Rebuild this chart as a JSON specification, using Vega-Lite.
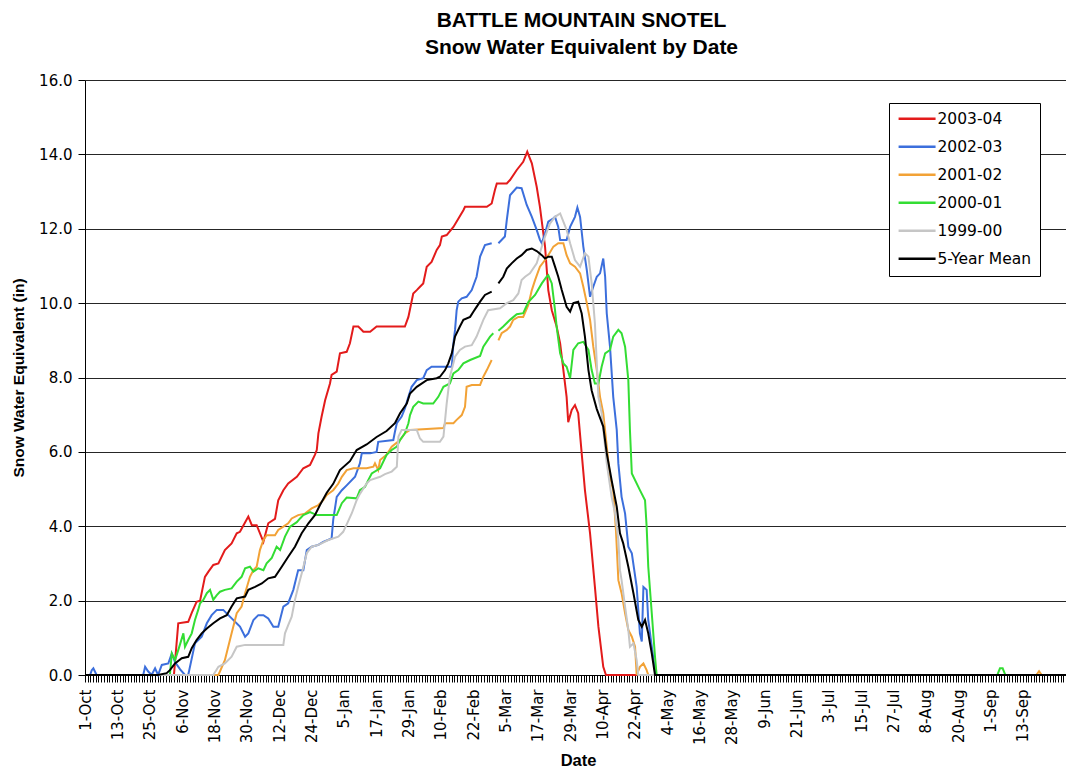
{
  "$schema": "https://vega.github.io/schema/vega-lite/v6.json",
  "width": 981,
  "height": 595,
  "autosize": {"type": "none"},
  "padding": {"left": 85, "top": 80, "right": 0, "bottom": 97},
  "background": "white",
  "title": {
    "text": ["BATTLE MOUNTAIN SNOTEL", "Snow Water Equivalent by Date"],
    "font": "Liberation Sans",
    "fontSize": 21,
    "fontWeight": "bold",
    "lineHeight": 27,
    "color": "black",
    "anchor": "middle",
    "frame": "group",
    "offset": 15,
    "dx": 6
  },
  "config": {"view": {"stroke": null}, "font": "DejaVu Sans"},
  "data": {"values": [
    {"season":"2003-04","day":0,"swe":0},{"season":"2003-04","day":33,"swe":0},{"season":"2003-04","day":34.6,"swe":1.39},{"season":"2003-04","day":38.3,"swe":1.43},{"season":"2003-04","day":39.6,"swe":1.67},{"season":"2003-04","day":41.4,"swe":1.97},{"season":"2003-04","day":42.7,"swe":2.0},{"season":"2003-04","day":44.5,"swe":2.64},{"season":"2003-04","day":45.8,"swe":2.78},{"season":"2003-04","day":47.6,"swe":2.96},{"season":"2003-04","day":49.5,"swe":3.0},{"season":"2003-04","day":51.9,"swe":3.36},{"season":"2003-04","day":54.4,"swe":3.54},{"season":"2003-04","day":56.3,"swe":3.81},{"season":"2003-04","day":57.5,"swe":3.85},{"season":"2003-04","day":60.6,"swe":4.26},{"season":"2003-04","day":61.9,"swe":4.03},{"season":"2003-04","day":63.7,"swe":4.03},{"season":"2003-04","day":66.2,"swe":3.58},{"season":"2003-04","day":68,"swe":4.08},{"season":"2003-04","day":70.5,"swe":4.2},{"season":"2003-04","day":71.7,"swe":4.7},{"season":"2003-04","day":73.6,"swe":4.97},{"season":"2003-04","day":75.4,"swe":5.15},{"season":"2003-04","day":78.6,"swe":5.33},{"season":"2003-04","day":81,"swe":5.56},{"season":"2003-04","day":83.5,"swe":5.65},{"season":"2003-04","day":85.3,"swe":5.92},{"season":"2003-04","day":86,"swe":6.05},{"season":"2003-04","day":86.6,"swe":6.5},{"season":"2003-04","day":87.8,"swe":6.95},{"season":"2003-04","day":89.1,"swe":7.39},{"season":"2003-04","day":90.9,"swe":7.84},{"season":"2003-04","day":91.5,"swe":8.07},{"season":"2003-04","day":93.4,"swe":8.16},{"season":"2003-04","day":94.6,"swe":8.65},{"season":"2003-04","day":97.1,"swe":8.69},{"season":"2003-04","day":98.3,"swe":8.92},{"season":"2003-04","day":99.6,"swe":9.37},{"season":"2003-04","day":101.4,"swe":9.37},{"season":"2003-04","day":103.3,"swe":9.23},{"season":"2003-04","day":105.8,"swe":9.23},{"season":"2003-04","day":108.2,"swe":9.37},{"season":"2003-04","day":118.7,"swe":9.37},{"season":"2003-04","day":120,"swe":9.63},{"season":"2003-04","day":121.8,"swe":10.26},{"season":"2003-04","day":123.1,"swe":10.35},{"season":"2003-04","day":124.3,"swe":10.44},{"season":"2003-04","day":125.5,"swe":10.53},{"season":"2003-04","day":126.8,"swe":10.98},{"season":"2003-04","day":128.6,"swe":11.11},{"season":"2003-04","day":130.5,"swe":11.43},{"season":"2003-04","day":131.7,"swe":11.56},{"season":"2003-04","day":132.4,"swe":11.79},{"season":"2003-04","day":134.2,"swe":11.83},{"season":"2003-04","day":136.7,"swe":12.05},{"season":"2003-04","day":140.4,"swe":12.5},{"season":"2003-04","day":141,"swe":12.59},{"season":"2003-04","day":149.1,"swe":12.59},{"season":"2003-04","day":150.9,"swe":12.68},{"season":"2003-04","day":152.1,"swe":13.04},{"season":"2003-04","day":152.8,"swe":13.22},{"season":"2003-04","day":156.5,"swe":13.22},{"season":"2003-04","day":157.7,"swe":13.31},{"season":"2003-04","day":160.2,"swe":13.58},{"season":"2003-04","day":162.6,"swe":13.8},{"season":"2003-04","day":164.1,"swe":14.07},{"season":"2003-04","day":165.8,"swe":13.76},{"season":"2003-04","day":167.6,"swe":13.13},{"season":"2003-04","day":168.8,"swe":12.59},{"season":"2003-04","day":170.7,"swe":11.52},{"season":"2003-04","day":171.9,"swe":10.35},{"season":"2003-04","day":173.2,"swe":9.81},{"season":"2003-04","day":175,"swe":9.37},{"season":"2003-04","day":176.3,"swe":8.92},{"season":"2003-04","day":177.5,"swe":8.2},{"season":"2003-04","day":178.7,"swe":7.48},{"season":"2003-04","day":179.3,"swe":6.8},{"season":"2003-04","day":180.6,"swe":7.13},{"season":"2003-04","day":181.8,"swe":7.26},{"season":"2003-04","day":183,"swe":7.04},{"season":"2003-04","day":184.3,"swe":5.96},{"season":"2003-04","day":185.5,"swe":4.97},{"season":"2003-04","day":187.4,"swe":3.81},{"season":"2003-04","day":189.2,"swe":2.37},{"season":"2003-04","day":190.5,"swe":1.3},{"season":"2003-04","day":192.3,"swe":0.22},{"season":"2003-04","day":193.3,"swe":0},{"season":"2003-04","day":204.8,"swe":0},

    {"season":"2002-03","day":0,"swe":0},{"season":"2002-03","day":1.9,"swe":0},{"season":"2002-03","day":2.5,"swe":0.13},{"season":"2002-03","day":3.1,"swe":0.18},{"season":"2002-03","day":4.3,"swe":0},{"season":"2002-03","day":21.6,"swe":0},{"season":"2002-03","day":22.3,"swe":0.22},{"season":"2002-03","day":23.4,"swe":0.1},{"season":"2002-03","day":24.7,"swe":0},{"season":"2002-03","day":26,"swe":0.18},{"season":"2002-03","day":27.1,"swe":0},{"season":"2002-03","day":28.5,"swe":0.27},{"season":"2002-03","day":30.9,"swe":0.31},{"season":"2002-03","day":32.2,"swe":0.58},{"season":"2002-03","day":33.4,"swe":0.35},{"season":"2002-03","day":35.3,"swe":0.15},{"season":"2002-03","day":37.1,"swe":0},{"season":"2002-03","day":38.3,"swe":0},{"season":"2002-03","day":40.8,"swe":0.85},{"season":"2002-03","day":43.3,"swe":1.03},{"season":"2002-03","day":45.2,"swe":1.39},{"season":"2002-03","day":47,"swe":1.61},{"season":"2002-03","day":48.9,"swe":1.75},{"season":"2002-03","day":51.3,"swe":1.75},{"season":"2002-03","day":53.2,"swe":1.61},{"season":"2002-03","day":57.5,"swe":1.3},{"season":"2002-03","day":59.4,"swe":1.03},{"season":"2002-03","day":60.6,"swe":1.12},{"season":"2002-03","day":62.5,"swe":1.48},{"season":"2002-03","day":64.3,"swe":1.61},{"season":"2002-03","day":66.2,"swe":1.61},{"season":"2002-03","day":68,"swe":1.52},{"season":"2002-03","day":69.9,"swe":1.3},{"season":"2002-03","day":71.7,"swe":1.3},{"season":"2002-03","day":73.6,"swe":1.84},{"season":"2002-03","day":75.4,"swe":1.93},{"season":"2002-03","day":77.3,"swe":2.29},{"season":"2002-03","day":79.1,"swe":2.82},{"season":"2002-03","day":81,"swe":2.82},{"season":"2002-03","day":82.3,"swe":3.36},{"season":"2002-03","day":84.1,"swe":3.45},{"season":"2002-03","day":86.6,"swe":3.5},{"season":"2002-03","day":88.4,"swe":3.58},{"season":"2002-03","day":91.5,"swe":3.67},{"season":"2002-03","day":92.1,"swe":4.17},{"season":"2002-03","day":93.4,"swe":4.79},{"season":"2002-03","day":95.3,"swe":4.97},{"season":"2002-03","day":97.1,"swe":5.1},{"season":"2002-03","day":100.2,"swe":5.33},{"season":"2002-03","day":102,"swe":5.69},{"season":"2002-03","day":102.7,"swe":5.96},{"season":"2002-03","day":105.8,"swe":5.96},{"season":"2002-03","day":108.2,"swe":6.0},{"season":"2002-03","day":108.8,"swe":6.27},{"season":"2002-03","day":114.4,"swe":6.32},{"season":"2002-03","day":115,"swe":6.54},{"season":"2002-03","day":115.7,"swe":6.77},{"season":"2002-03","day":117.5,"swe":6.95},{"season":"2002-03","day":118.7,"swe":7.17},{"season":"2002-03","day":120,"swe":7.48},{"season":"2002-03","day":121.2,"swe":7.75},{"season":"2002-03","day":123.1,"swe":7.93},{"season":"2002-03","day":125.5,"swe":7.98},{"season":"2002-03","day":126.8,"swe":8.2},{"season":"2002-03","day":128.6,"swe":8.29},{"season":"2002-03","day":136.1,"swe":8.29},{"season":"2002-03","day":136.7,"swe":8.92},{"season":"2002-03","day":137.3,"swe":9.28},{"season":"2002-03","day":137.9,"swe":9.81},{"season":"2002-03","day":138.5,"swe":10.04},{"season":"2002-03","day":139.8,"swe":10.13},{"season":"2002-03","day":141.6,"swe":10.17},{"season":"2002-03","day":143.5,"swe":10.35},{"season":"2002-03","day":145.3,"swe":10.71},{"season":"2002-03","day":146.6,"swe":11.25},{"season":"2002-03","day":148.4,"swe":11.56},{"season":"2002-03","day":150.9,"swe":11.61},{"season":"2002-03","day":152.2,"swe":null},{"season":"2002-03","day":153.4,"swe":11.61},{"season":"2002-03","day":155.8,"swe":11.79},{"season":"2002-03","day":156.5,"swe":12.23},{"season":"2002-03","day":157.7,"swe":12.9},{"season":"2002-03","day":160.2,"swe":13.11},{"season":"2002-03","day":162,"swe":13.09},{"season":"2002-03","day":163.9,"swe":12.64},{"season":"2002-03","day":165.8,"swe":12.32},{"season":"2002-03","day":167.6,"swe":11.97},{"season":"2002-03","day":168.8,"swe":11.7},{"season":"2002-03","day":169.5,"swe":11.61},{"season":"2002-03","day":170.7,"swe":11.88},{"season":"2002-03","day":171.9,"swe":12.19},{"season":"2002-03","day":173.8,"swe":12.28},{"season":"2002-03","day":174.4,"swe":12.32},{"season":"2002-03","day":175.6,"swe":12.05},{"season":"2002-03","day":176.3,"swe":11.7},{"season":"2002-03","day":178.7,"swe":11.7},{"season":"2002-03","day":180,"swe":12.05},{"season":"2002-03","day":181.8,"swe":12.32},{"season":"2002-03","day":182.7,"swe":12.57},{"season":"2002-03","day":183.7,"swe":12.32},{"season":"2002-03","day":184.9,"swe":11.52},{"season":"2002-03","day":186.2,"swe":10.89},{"season":"2002-03","day":187.4,"swe":10.17},{"season":"2002-03","day":188.6,"swe":10.44},{"season":"2002-03","day":189.9,"swe":10.71},{"season":"2002-03","day":191.1,"swe":10.8},{"season":"2002-03","day":192.3,"swe":11.2},{"season":"2002-03","day":193,"swe":10.71},{"season":"2002-03","day":193.6,"swe":9.72},{"season":"2002-03","day":194.8,"swe":8.83},{"season":"2002-03","day":196,"swe":7.48},{"season":"2002-03","day":197.3,"swe":6.59},{"season":"2002-03","day":197.9,"swe":5.69},{"season":"2002-03","day":199.1,"swe":4.79},{"season":"2002-03","day":200.4,"swe":4.34},{"season":"2002-03","day":201.6,"swe":3.45},{"season":"2002-03","day":202.9,"swe":3.27},{"season":"2002-03","day":204.7,"swe":2.37},{"season":"2002-03","day":205.9,"swe":1.12},{"season":"2002-03","day":206.6,"swe":0.9},{"season":"2002-03","day":207.2,"swe":2.37},{"season":"2002-03","day":208.4,"swe":2.29},{"season":"2002-03","day":209,"swe":1.48},{"season":"2002-03","day":210.3,"swe":0.76},{"season":"2002-03","day":211.5,"swe":0.13},{"season":"2002-03","day":212.1,"swe":0},{"season":"2002-03","day":364,"swe":0},

    {"season":"2001-02","day":0,"swe":0},{"season":"2001-02","day":49.5,"swe":0},{"season":"2001-02","day":51.9,"swe":0.4},{"season":"2001-02","day":54.4,"swe":1.12},{"season":"2001-02","day":56.3,"swe":1.66},{"season":"2001-02","day":58.1,"swe":1.84},{"season":"2001-02","day":59.4,"swe":2.2},{"season":"2001-02","day":61.2,"swe":2.64},{"season":"2001-02","day":62.5,"swe":2.82},{"season":"2001-02","day":63.7,"swe":2.91},{"season":"2001-02","day":64.9,"swe":3.36},{"season":"2001-02","day":66.2,"swe":3.63},{"season":"2001-02","day":67.4,"swe":3.76},{"season":"2001-02","day":70.5,"swe":3.76},{"season":"2001-02","day":71.7,"swe":3.9},{"season":"2001-02","day":73.6,"swe":3.99},{"season":"2001-02","day":75.4,"swe":4.08},{"season":"2001-02","day":76.7,"swe":4.21},{"season":"2001-02","day":79.1,"swe":4.3},{"season":"2001-02","day":81.6,"swe":4.34},{"season":"2001-02","day":84.1,"swe":4.48},{"season":"2001-02","day":86.6,"swe":4.57},{"season":"2001-02","day":88.4,"swe":4.7},{"season":"2001-02","day":89.7,"swe":4.84},{"season":"2001-02","day":92.1,"swe":4.97},{"season":"2001-02","day":94,"swe":5.15},{"season":"2001-02","day":95.3,"swe":5.33},{"season":"2001-02","day":97.1,"swe":5.51},{"season":"2001-02","day":99.6,"swe":5.56},{"season":"2001-02","day":104.5,"swe":5.56},{"season":"2001-02","day":107,"swe":5.6},{"season":"2001-02","day":107.6,"swe":5.69},{"season":"2001-02","day":108.8,"swe":5.51},{"season":"2001-02","day":109.5,"swe":5.78},{"season":"2001-02","day":111.9,"swe":5.92},{"season":"2001-02","day":113.8,"swe":6.14},{"season":"2001-02","day":116.9,"swe":6.32},{"season":"2001-02","day":118.7,"swe":6.5},{"season":"2001-02","day":120.6,"swe":6.59},{"season":"2001-02","day":133,"swe":6.64},{"season":"2001-02","day":133.6,"swe":6.77},{"season":"2001-02","day":136.7,"swe":6.77},{"season":"2001-02","day":137.9,"swe":6.86},{"season":"2001-02","day":139.8,"swe":6.99},{"season":"2001-02","day":141,"swe":7.21},{"season":"2001-02","day":141.6,"swe":7.75},{"season":"2001-02","day":143.5,"swe":7.8},{"season":"2001-02","day":146.6,"swe":7.8},{"season":"2001-02","day":147.8,"swe":8.02},{"season":"2001-02","day":149.1,"swe":8.2},{"season":"2001-02","day":150.9,"swe":8.47},{"season":"2001-02","day":152.2,"swe":null},{"season":"2001-02","day":153.4,"swe":9.0},{"season":"2001-02","day":154.6,"swe":9.19},{"season":"2001-02","day":156.5,"swe":9.28},{"season":"2001-02","day":157.7,"swe":9.37},{"season":"2001-02","day":158.9,"swe":9.55},{"season":"2001-02","day":160.8,"swe":9.63},{"season":"2001-02","day":162.6,"swe":9.63},{"season":"2001-02","day":164.5,"swe":9.95},{"season":"2001-02","day":165.8,"swe":10.35},{"season":"2001-02","day":167,"swe":10.62},{"season":"2001-02","day":168.8,"swe":10.98},{"season":"2001-02","day":170.7,"swe":11.16},{"season":"2001-02","day":171.9,"swe":11.29},{"season":"2001-02","day":173.8,"swe":11.52},{"season":"2001-02","day":175.6,"swe":11.61},{"season":"2001-02","day":177.5,"swe":11.61},{"season":"2001-02","day":178.7,"swe":11.29},{"season":"2001-02","day":180,"swe":11.07},{"season":"2001-02","day":181.8,"swe":10.98},{"season":"2001-02","day":183.7,"swe":10.8},{"season":"2001-02","day":184.9,"swe":10.44},{"season":"2001-02","day":186.2,"swe":10.0},{"season":"2001-02","day":187.4,"swe":9.55},{"season":"2001-02","day":188.6,"swe":8.83},{"season":"2001-02","day":189.9,"swe":8.2},{"season":"2001-02","day":191.1,"swe":7.48},{"season":"2001-02","day":192.3,"swe":7.04},{"season":"2001-02","day":193.6,"swe":6.14},{"season":"2001-02","day":194.8,"swe":5.33},{"season":"2001-02","day":196,"swe":4.97},{"season":"2001-02","day":197,"swe":3.9},{"season":"2001-02","day":197.9,"swe":2.55},{"season":"2001-02","day":199.1,"swe":2.2},{"season":"2001-02","day":200.4,"swe":1.66},{"season":"2001-02","day":201.6,"swe":1.21},{"season":"2001-02","day":202.9,"swe":1.03},{"season":"2001-02","day":204.1,"swe":0.76},{"season":"2001-02","day":204.7,"swe":0},{"season":"2001-02","day":205.9,"swe":0.22},{"season":"2001-02","day":207.2,"swe":0.31},{"season":"2001-02","day":208.4,"swe":0.13},{"season":"2001-02","day":209,"swe":0},{"season":"2001-02","day":353,"swe":0},{"season":"2001-02","day":354,"swe":0.1},{"season":"2001-02","day":355,"swe":0},{"season":"2001-02","day":364,"swe":0},

    {"season":"2000-01","day":0,"swe":0},{"season":"2000-01","day":31.5,"swe":0},{"season":"2000-01","day":32.2,"swe":0.58},{"season":"2000-01","day":33.4,"swe":0.4},{"season":"2000-01","day":34.6,"swe":0.67},{"season":"2000-01","day":36.5,"swe":1.12},{"season":"2000-01","day":37.1,"swe":0.76},{"season":"2000-01","day":38.3,"swe":0.94},{"season":"2000-01","day":39.6,"swe":1.12},{"season":"2000-01","day":40.8,"swe":1.48},{"season":"2000-01","day":42,"swe":1.75},{"season":"2000-01","day":42.7,"swe":1.93},{"season":"2000-01","day":43.9,"swe":2.02},{"season":"2000-01","day":45.2,"swe":2.2},{"season":"2000-01","day":46.4,"swe":2.29},{"season":"2000-01","day":47.6,"swe":2.02},{"season":"2000-01","day":48.9,"swe":2.15},{"season":"2000-01","day":50.1,"swe":2.24},{"season":"2000-01","day":51.9,"swe":2.29},{"season":"2000-01","day":54.4,"swe":2.33},{"season":"2000-01","day":56.3,"swe":2.51},{"season":"2000-01","day":58.1,"swe":2.64},{"season":"2000-01","day":59.4,"swe":2.87},{"season":"2000-01","day":61.2,"swe":2.91},{"season":"2000-01","day":62.5,"swe":2.78},{"season":"2000-01","day":64.3,"swe":2.87},{"season":"2000-01","day":66.2,"swe":2.82},{"season":"2000-01","day":67.4,"swe":3.0},{"season":"2000-01","day":69.3,"swe":3.15},{"season":"2000-01","day":71.1,"swe":3.45},{"season":"2000-01","day":72.4,"swe":3.36},{"season":"2000-01","day":74.2,"swe":3.72},{"season":"2000-01","day":76.1,"swe":3.99},{"season":"2000-01","day":78.6,"swe":4.11},{"season":"2000-01","day":79.8,"swe":4.21},{"season":"2000-01","day":81,"swe":4.3},{"season":"2000-01","day":83.5,"swe":4.38},{"season":"2000-01","day":86,"swe":4.3},{"season":"2000-01","day":93.4,"swe":4.3},{"season":"2000-01","day":95.3,"swe":4.62},{"season":"2000-01","day":97.1,"swe":4.77},{"season":"2000-01","day":100.8,"swe":4.75},{"season":"2000-01","day":102,"swe":4.97},{"season":"2000-01","day":103.9,"swe":5.06},{"season":"2000-01","day":105.1,"swe":5.24},{"season":"2000-01","day":106.4,"swe":5.42},{"season":"2000-01","day":109.5,"swe":5.56},{"season":"2000-01","day":111.9,"swe":5.92},{"season":"2000-01","day":113.8,"swe":6.05},{"season":"2000-01","day":115.7,"swe":6.14},{"season":"2000-01","day":116.9,"swe":6.32},{"season":"2000-01","day":118.7,"swe":6.5},{"season":"2000-01","day":120,"swe":6.77},{"season":"2000-01","day":120.6,"swe":6.99},{"season":"2000-01","day":121.8,"swe":7.21},{"season":"2000-01","day":123.7,"swe":7.35},{"season":"2000-01","day":125.5,"swe":7.3},{"season":"2000-01","day":129.2,"swe":7.3},{"season":"2000-01","day":131.1,"swe":7.48},{"season":"2000-01","day":133,"swe":7.75},{"season":"2000-01","day":135.4,"swe":7.84},{"season":"2000-01","day":136.7,"swe":8.11},{"season":"2000-01","day":138.5,"swe":8.2},{"season":"2000-01","day":140.4,"swe":8.38},{"season":"2000-01","day":142.9,"swe":8.47},{"season":"2000-01","day":146.6,"swe":8.58},{"season":"2000-01","day":147.8,"swe":8.83},{"season":"2000-01","day":150.3,"swe":9.1},{"season":"2000-01","day":151.5,"swe":9.19},{"season":"2000-01","day":152.4,"swe":null},{"season":"2000-01","day":153.4,"swe":9.26},{"season":"2000-01","day":155.2,"swe":9.37},{"season":"2000-01","day":157.7,"swe":9.55},{"season":"2000-01","day":160.2,"swe":9.7},{"season":"2000-01","day":162.6,"swe":9.73},{"season":"2000-01","day":164.5,"swe":10.03},{"season":"2000-01","day":167,"swe":10.22},{"season":"2000-01","day":169.5,"swe":10.53},{"season":"2000-01","day":171.3,"swe":10.71},{"season":"2000-01","day":171.9,"swe":10.75},{"season":"2000-01","day":173.2,"swe":10.53},{"season":"2000-01","day":174.4,"swe":9.81},{"season":"2000-01","day":175,"swe":9.37},{"season":"2000-01","day":176.3,"swe":8.65},{"season":"2000-01","day":177.5,"swe":8.38},{"season":"2000-01","day":178.7,"swe":8.29},{"season":"2000-01","day":180,"swe":7.98},{"season":"2000-01","day":181.2,"swe":8.74},{"season":"2000-01","day":183,"swe":8.92},{"season":"2000-01","day":184.9,"swe":8.96},{"season":"2000-01","day":186.8,"swe":8.74},{"season":"2000-01","day":188,"swe":8.2},{"season":"2000-01","day":189.2,"swe":7.84},{"season":"2000-01","day":190.5,"swe":7.84},{"season":"2000-01","day":191.7,"swe":8.29},{"season":"2000-01","day":193,"swe":8.65},{"season":"2000-01","day":194.8,"swe":8.74},{"season":"2000-01","day":196,"swe":9.1},{"season":"2000-01","day":197.9,"swe":9.28},{"season":"2000-01","day":199.1,"swe":9.19},{"season":"2000-01","day":200.4,"swe":8.83},{"season":"2000-01","day":201.6,"swe":7.93},{"season":"2000-01","day":202.2,"swe":6.59},{"season":"2000-01","day":202.9,"swe":5.42},{"season":"2000-01","day":205.9,"swe":4.97},{"season":"2000-01","day":207.8,"swe":4.7},{"season":"2000-01","day":208.4,"swe":3.99},{"season":"2000-01","day":209,"swe":2.91},{"season":"2000-01","day":210.3,"swe":1.66},{"season":"2000-01","day":211.5,"swe":0.49},{"season":"2000-01","day":212.1,"swe":0},{"season":"2000-01","day":338.5,"swe":0},{"season":"2000-01","day":339.5,"swe":0.18},{"season":"2000-01","day":340.5,"swe":0.18},{"season":"2000-01","day":341.5,"swe":0},{"season":"2000-01","day":364,"swe":0},

    {"season":"1999-00","day":0,"swe":0},{"season":"1999-00","day":47.6,"swe":0},{"season":"1999-00","day":49.5,"swe":0.22},{"season":"1999-00","day":51.9,"swe":0.31},{"season":"1999-00","day":54.4,"swe":0.49},{"season":"1999-00","day":56.3,"swe":0.76},{"season":"1999-00","day":59.4,"swe":0.81},{"season":"1999-00","day":73.6,"swe":0.81},{"season":"1999-00","day":74.2,"swe":1.12},{"season":"1999-00","day":75.4,"swe":1.34},{"season":"1999-00","day":76.7,"swe":1.57},{"season":"1999-00","day":77.9,"swe":2.02},{"season":"1999-00","day":79.1,"swe":2.37},{"season":"1999-00","day":80.4,"swe":2.73},{"season":"1999-00","day":82.3,"swe":3.28},{"season":"1999-00","day":84.1,"swe":3.45},{"season":"1999-00","day":86.6,"swe":3.5},{"season":"1999-00","day":90.3,"swe":3.63},{"season":"1999-00","day":94,"swe":3.72},{"season":"1999-00","day":95.8,"swe":3.85},{"season":"1999-00","day":97.1,"swe":4.05},{"season":"1999-00","day":99,"swe":4.35},{"season":"1999-00","day":100.8,"swe":4.7},{"season":"1999-00","day":102,"swe":4.87},{"season":"1999-00","day":104.5,"swe":5.15},{"season":"1999-00","day":105.8,"swe":5.24},{"season":"1999-00","day":109.5,"swe":5.33},{"season":"1999-00","day":111.3,"swe":5.4},{"season":"1999-00","day":113.8,"swe":5.47},{"season":"1999-00","day":115.7,"swe":5.6},{"season":"1999-00","day":116.3,"swe":6.41},{"season":"1999-00","day":117.5,"swe":6.59},{"season":"1999-00","day":123.1,"swe":6.59},{"season":"1999-00","day":124.3,"swe":6.36},{"season":"1999-00","day":125.5,"swe":6.27},{"season":"1999-00","day":131.7,"swe":6.27},{"season":"1999-00","day":133,"swe":6.41},{"season":"1999-00","day":134.2,"swe":7.3},{"season":"1999-00","day":135.4,"swe":8.02},{"season":"1999-00","day":137.3,"swe":8.56},{"season":"1999-00","day":139.1,"swe":8.74},{"season":"1999-00","day":141,"swe":8.83},{"season":"1999-00","day":143.5,"swe":8.87},{"season":"1999-00","day":145.3,"swe":9.1},{"season":"1999-00","day":147.8,"swe":9.55},{"season":"1999-00","day":149.6,"swe":9.81},{"season":"1999-00","day":154,"swe":9.86},{"season":"1999-00","day":156.5,"swe":10.0},{"season":"1999-00","day":158.9,"swe":10.08},{"season":"1999-00","day":160.8,"swe":10.26},{"season":"1999-00","day":162,"swe":10.62},{"season":"1999-00","day":163.3,"swe":10.71},{"season":"1999-00","day":165.1,"swe":10.8},{"season":"1999-00","day":167.6,"swe":11.07},{"season":"1999-00","day":169.5,"swe":11.52},{"season":"1999-00","day":170.7,"swe":11.79},{"season":"1999-00","day":172.5,"swe":12.14},{"season":"1999-00","day":174.4,"swe":12.32},{"season":"1999-00","day":176.3,"swe":12.41},{"season":"1999-00","day":177.5,"swe":12.19},{"season":"1999-00","day":178.7,"swe":11.97},{"season":"1999-00","day":180,"swe":11.61},{"season":"1999-00","day":181.8,"swe":11.16},{"season":"1999-00","day":183.7,"swe":10.98},{"season":"1999-00","day":185.5,"swe":11.34},{"season":"1999-00","day":186.8,"swe":11.25},{"season":"1999-00","day":188,"swe":10.53},{"season":"1999-00","day":189.2,"swe":9.46},{"season":"1999-00","day":189.9,"swe":8.38},{"season":"1999-00","day":190.5,"swe":7.48},{"season":"1999-00","day":191.7,"swe":7.04},{"season":"1999-00","day":193.6,"swe":5.69},{"season":"1999-00","day":195.4,"swe":4.79},{"season":"1999-00","day":196.7,"swe":4.34},{"season":"1999-00","day":197.9,"swe":3.63},{"season":"1999-00","day":198.5,"swe":2.82},{"season":"1999-00","day":199.1,"swe":2.55},{"season":"1999-00","day":200.4,"swe":1.84},{"season":"1999-00","day":201.6,"swe":1.21},{"season":"1999-00","day":202.2,"swe":0.76},{"season":"1999-00","day":203.5,"swe":0.85},{"season":"1999-00","day":204.7,"swe":0.4},{"season":"1999-00","day":205.3,"swe":0},{"season":"1999-00","day":364,"swe":0},

    {"season":"5-Year Mean","day":0,"swe":0},{"season":"5-Year Mean","day":27.1,"swe":0},{"season":"5-Year Mean","day":30.3,"swe":0.05},{"season":"5-Year Mean","day":31.5,"swe":0.13},{"season":"5-Year Mean","day":33.4,"swe":0.31},{"season":"5-Year Mean","day":35.9,"swe":0.45},{"season":"5-Year Mean","day":38.3,"swe":0.49},{"season":"5-Year Mean","day":39.6,"swe":0.72},{"season":"5-Year Mean","day":41.4,"swe":0.94},{"season":"5-Year Mean","day":43.3,"swe":1.12},{"season":"5-Year Mean","day":45.2,"swe":1.25},{"season":"5-Year Mean","day":47.6,"swe":1.39},{"season":"5-Year Mean","day":50.1,"swe":1.52},{"season":"5-Year Mean","day":52.6,"swe":1.61},{"season":"5-Year Mean","day":54.4,"swe":1.84},{"season":"5-Year Mean","day":56.3,"swe":2.06},{"season":"5-Year Mean","day":59.4,"swe":2.11},{"season":"5-Year Mean","day":60.6,"swe":2.29},{"season":"5-Year Mean","day":63.1,"swe":2.37},{"season":"5-Year Mean","day":65.6,"swe":2.46},{"season":"5-Year Mean","day":68,"swe":2.6},{"season":"5-Year Mean","day":70.5,"swe":2.64},{"season":"5-Year Mean","day":73,"swe":2.91},{"season":"5-Year Mean","day":75.4,"swe":3.18},{"season":"5-Year Mean","day":77.9,"swe":3.45},{"season":"5-Year Mean","day":80.4,"swe":3.81},{"season":"5-Year Mean","day":82.9,"swe":4.08},{"season":"5-Year Mean","day":85.3,"swe":4.3},{"season":"5-Year Mean","day":87.2,"swe":4.57},{"season":"5-Year Mean","day":89.7,"swe":4.9},{"season":"5-Year Mean","day":92.1,"swe":5.14},{"season":"5-Year Mean","day":94.6,"swe":5.51},{"season":"5-Year Mean","day":98.3,"swe":5.75},{"season":"5-Year Mean","day":100.8,"swe":6.05},{"season":"5-Year Mean","day":104.5,"swe":6.2},{"season":"5-Year Mean","day":108.2,"swe":6.4},{"season":"5-Year Mean","day":111.9,"swe":6.56},{"season":"5-Year Mean","day":115,"swe":6.77},{"season":"5-Year Mean","day":116.9,"swe":7.04},{"season":"5-Year Mean","day":119.4,"swe":7.3},{"season":"5-Year Mean","day":120.6,"swe":7.57},{"season":"5-Year Mean","day":123.1,"swe":7.75},{"season":"5-Year Mean","day":126.8,"swe":7.93},{"season":"5-Year Mean","day":130.5,"swe":7.98},{"season":"5-Year Mean","day":131.7,"swe":8.02},{"season":"5-Year Mean","day":133.6,"swe":8.2},{"season":"5-Year Mean","day":134.8,"swe":8.38},{"season":"5-Year Mean","day":136.1,"swe":8.65},{"season":"5-Year Mean","day":137.3,"swe":9.1},{"season":"5-Year Mean","day":139.1,"swe":9.37},{"season":"5-Year Mean","day":140.4,"swe":9.55},{"season":"5-Year Mean","day":142.9,"swe":9.63},{"season":"5-Year Mean","day":144.1,"swe":9.77},{"season":"5-Year Mean","day":145.3,"swe":9.9},{"season":"5-Year Mean","day":146.6,"swe":10.04},{"season":"5-Year Mean","day":148.4,"swe":10.22},{"season":"5-Year Mean","day":150.9,"swe":10.31},{"season":"5-Year Mean","day":152.2,"swe":null},{"season":"5-Year Mean","day":153.4,"swe":10.53},{"season":"5-Year Mean","day":155.2,"swe":10.71},{"season":"5-Year Mean","day":156.5,"swe":10.93},{"season":"5-Year Mean","day":158.3,"swe":11.07},{"season":"5-Year Mean","day":160.2,"swe":11.2},{"season":"5-Year Mean","day":162,"swe":11.29},{"season":"5-Year Mean","day":163.9,"swe":11.43},{"season":"5-Year Mean","day":165.8,"swe":11.47},{"season":"5-Year Mean","day":167.6,"swe":11.4},{"season":"5-Year Mean","day":169.5,"swe":11.29},{"season":"5-Year Mean","day":170.7,"swe":11.2},{"season":"5-Year Mean","day":171.9,"swe":11.25},{"season":"5-Year Mean","day":173.2,"swe":11.25},{"season":"5-Year Mean","day":174.4,"swe":10.98},{"season":"5-Year Mean","day":175.6,"swe":10.71},{"season":"5-Year Mean","day":176.9,"swe":10.35},{"season":"5-Year Mean","day":178.7,"swe":9.9},{"season":"5-Year Mean","day":180,"swe":9.77},{"season":"5-Year Mean","day":181.2,"swe":10.0},{"season":"5-Year Mean","day":183,"swe":10.04},{"season":"5-Year Mean","day":184.3,"swe":9.72},{"season":"5-Year Mean","day":185.5,"swe":9.1},{"season":"5-Year Mean","day":186.8,"swe":8.2},{"season":"5-Year Mean","day":188,"swe":7.65},{"season":"5-Year Mean","day":189.9,"swe":7.15},{"season":"5-Year Mean","day":192.3,"swe":6.68},{"season":"5-Year Mean","day":193.6,"swe":5.96},{"season":"5-Year Mean","day":195.4,"swe":5.24},{"season":"5-Year Mean","day":197.3,"swe":4.53},{"season":"5-Year Mean","day":198.5,"swe":3.81},{"season":"5-Year Mean","day":199.7,"swe":3.54},{"season":"5-Year Mean","day":201.6,"swe":2.91},{"season":"5-Year Mean","day":203.5,"swe":2.2},{"season":"5-Year Mean","day":205.3,"swe":1.48},{"season":"5-Year Mean","day":206.6,"swe":1.3},{"season":"5-Year Mean","day":207.8,"swe":1.48},{"season":"5-Year Mean","day":209,"swe":1.12},{"season":"5-Year Mean","day":210.3,"swe":0.58},{"season":"5-Year Mean","day":211.5,"swe":0},{"season":"5-Year Mean","day":364,"swe":0}
  ]},
  "mark": {"type": "line", "strokeWidth": 2, "invalid": "break-paths-show-domains"},
  "encoding": {
    "x": {
      "field": "day",
      "type": "quantitative",
      "scale": {"domain": [0, 364], "nice": false, "zero": false},
      "axis": {
        "title": "Date",
        "titleFont": "Liberation Sans",
        "titleFontSize": 16.5,
        "titleFontWeight": "bold",
        "titleColor": "black",
        "titleX": 493,
        "titleY": 85,
        "titleAlign": "center",
        "titleBaseline": "middle",
        "grid": false,
        "tickCount": 364,
        "tickSize": 7,
        "tickColor": "black",
        "domainColor": "black",
        "labelExpr": "(datum.value % 12 === 0 && datum.value <= 348) ? timeFormat(datetime(2003, 9, 1 + datum.value), '%-d-%b') : ''",
        "labelAngle": 270,
        "labelFont": "DejaVu Sans",
        "labelFontSize": 15,
        "labelColor": "black",
        "labelPadding": 7,
        "labelOverlap": false,
        "labelFlush": false,
        "labelBound": false
      }
    },
    "y": {
      "field": "swe",
      "type": "quantitative",
      "scale": {"domain": [0, 16], "nice": false},
      "axis": {
        "title": "Snow Water Equivalent (in)",
        "titleFont": "Liberation Sans",
        "titleFontSize": 15.5,
        "titleFontWeight": "bold",
        "titleColor": "black",
        "titleX": -67,
        "titleY": 297.5,
        "titleAngle": 270,
        "titleAlign": "center",
        "titleBaseline": "middle",
        "values": [0, 2, 4, 6, 8, 10, 12, 14, 16],
        "format": ".1f",
        "grid": true,
        "gridColor": "black",
        "gridWidth": 1,
        "gridOpacity": 0.85,
        "tickSize": 7,
        "tickColor": "black",
        "domainColor": "black",
        "labelFont": "DejaVu Sans",
        "labelFontSize": 15,
        "labelColor": "black",
        "labelPadding": 6
      }
    },
    "color": {
      "field": "season",
      "type": "nominal",
      "scale": {
        "domain": ["2003-04", "2002-03", "2001-02", "2000-01", "1999-00", "5-Year Mean"],
        "range": ["#E31B1B", "#3C6FDC", "#F2A236", "#33DD33", "#C6C6C6", "#000000"]
      },
      "legend": {
        "title": null,
        "orient": "none",
        "legendX": 804,
        "legendY": 23,
        "direction": "vertical",
        "symbolType": "M-1,0H5",
        "symbolSize": 152,
        "symbolStrokeWidth": 2.5,
        "labelFont": "DejaVu Sans",
        "labelFontSize": 15.5,
        "labelColor": "black",
        "labelOffset": 25,
        "labelLimit": 200,
        "padding": 8,
        "rowPadding": 11,
        "strokeColor": "black",
        "fillColor": "white"
      }
    }
  }
}
